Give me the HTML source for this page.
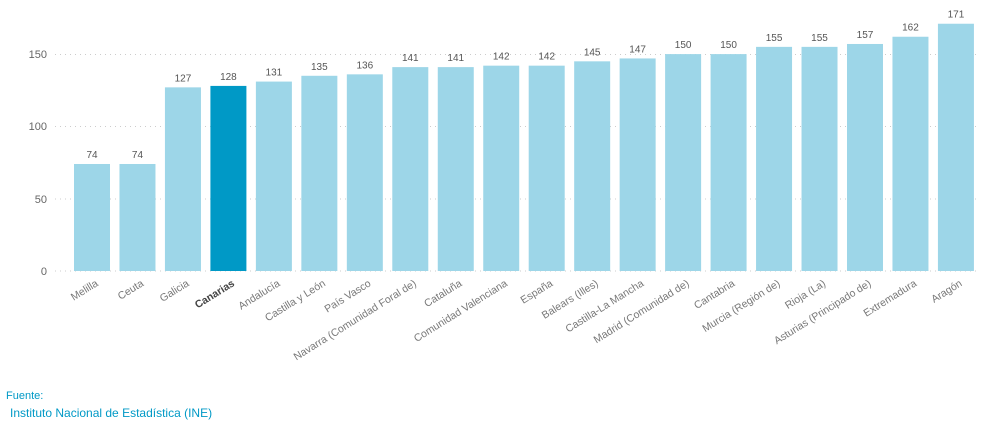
<!DOCTYPE html>
<html><head><meta charset="utf-8"><style>
body{margin:0;background:#fff;width:986px;height:433px;overflow:hidden;font-family:"Liberation Sans",sans-serif}
</style></head><body>
<svg width="986" height="433" xmlns="http://www.w3.org/2000/svg" font-family="Liberation Sans, sans-serif">
<g stroke="#ccc" stroke-dasharray="1,4" stroke-width="1">
<line x1="55" x2="980" y1="54.5" y2="54.5"/>
<line x1="55" x2="980" y1="126.5" y2="126.5"/>
<line x1="55" x2="980" y1="199" y2="199"/>
<line x1="55" x2="980" y1="271" y2="271"/>
</g>
<g font-size="11" fill="#666" text-anchor="end">
<text x="47" y="58">150</text><text x="47" y="130">100</text><text x="47" y="203">50</text><text x="47" y="275">0</text>
</g>
<g id="bars"></g>
<text x="6" y="399" font-size="11" fill="#0099c6">Fuente:</text>
<text x="10" y="417" font-size="12" fill="#0099c6">Instituto Nacional de Estadística (INE)</text>
</svg>
<script>
const d=[["Melilla",74],["Ceuta",74],["Galicia",127],["Canarias",128],["Andalucía",131],["Castilla y León",135],["País Vasco",136],["Navarra (Comunidad Foral de)",141],["Cataluña",141],["Comunidad Valenciana",142],["España",142],["Balears (Illes)",145],["Castilla-La Mancha",147],["Madrid (Comunidad de)",150],["Cantabria",150],["Murcia (Región de)",155],["Rioja (La)",155],["Asturias (Principado de)",157],["Extremadura",162],["Aragón",171]];
let s="";
d.forEach((e,i)=>{const cx=92+i*45.47,h=e[1]*1.446,y=271-h,hi=e[0]=="Canarias";
s+=`<rect x="${cx-18}" y="${y}" width="36" height="${h}" fill="${hi?'#0099c6':'#9dd6e8'}"/>`;
s+=`<text x="${cx}" y="${y-6}" font-size="10" fill="#555" text-anchor="middle">${e[1]}</text>`;
s+=`<text transform="translate(${cx+3},${279}) rotate(-32)" font-size="10.5" fill="${hi?'#444':'#777'}" ${hi?'font-weight="bold"':''} text-anchor="end" dominant-baseline="hanging">${e[0]}</text>`;});
document.getElementById("bars").innerHTML=s;
</script>
</body></html>
